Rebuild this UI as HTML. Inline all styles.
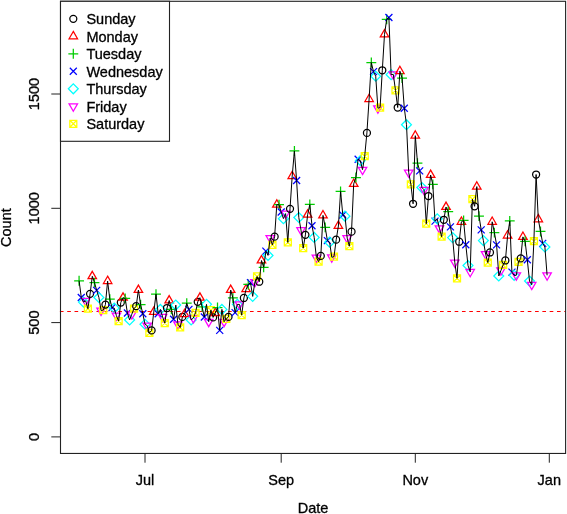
<!DOCTYPE html>
<html><head><meta charset="utf-8"><title>Daily count</title>
<style>html,body{margin:0;padding:0;background:#fff}svg{display:block}text{font-family:"Liberation Sans",Arial,sans-serif;font-size:14.5px;fill:#000;stroke:#000;stroke-width:0.3px}</style></head>
<body>
<svg width="567" height="514" viewBox="0 0 567 514">
<rect width="567" height="514" fill="#fff"/>
<line x1="59.9" y1="311.5" x2="565.6" y2="311.5" stroke="#f00" stroke-width="1.2" stroke-dasharray="3.65 3.66"/>
<g fill="none" stroke-width="1.25">
<path d="M74.13 280.82H84.03M79.08 275.87V285.77" stroke="#00cd00"/>
<path d="M77.78 294.01L84.78 301.01M77.78 301.01L84.78 294.01" stroke="#00f"/>
<path d="M78.53 302.08L83.47 297.13L88.42 302.08L83.47 307.03Z" stroke="#0ff"/>
<path d="M85.67 305.84L89.91 298.49L81.43 298.49Z" stroke="#f0f"/>
<path d="M84.37 305.21H91.37V312.21H84.37ZM84.37 305.21L91.37 312.21M84.37 312.21L91.37 305.21" stroke="#ff0"/>
<circle cx="90.07" cy="293.85" r="3.5" stroke="#000"/>
<path d="M92.26 271.35L96.51 278.7L88.02 278.7Z" stroke="#f00"/>
<path d="M89.51 282.65H99.41M94.46 277.7V287.6" stroke="#00cd00"/>
<path d="M93.16 286.92L100.16 293.92M93.16 293.92L100.16 286.92" stroke="#00f"/>
<path d="M93.91 297.51L98.86 292.56L103.8 297.51L98.86 302.46Z" stroke="#0ff"/>
<path d="M101.05 315.44L105.29 308.09L96.81 308.09Z" stroke="#f0f"/>
<path d="M99.75 306.58H106.75V313.58H99.75ZM99.75 306.58L106.75 313.58M99.75 313.58L106.75 306.58" stroke="#ff0"/>
<circle cx="105.45" cy="304.6" r="3.5" stroke="#000"/>
<path d="M107.64 276.15L111.89 283.5L103.4 283.5Z" stroke="#f00"/>
<path d="M104.89 299.11H114.79M109.84 294.16V304.06" stroke="#00cd00"/>
<path d="M108.54 304.07L115.54 311.07M108.54 311.07L115.54 304.07" stroke="#00f"/>
<path d="M109.29 308.03L114.24 303.08L119.19 308.03L114.24 312.98Z" stroke="#0ff"/>
<path d="M116.43 320.47L120.68 313.12L112.19 313.12Z" stroke="#f0f"/>
<path d="M115.13 317.56H122.13V324.56H115.13ZM115.13 317.56L122.13 324.56M115.13 324.56L122.13 317.56" stroke="#ff0"/>
<circle cx="120.83" cy="302.54" r="3.5" stroke="#000"/>
<path d="M123.03 292.84L127.27 300.19L118.78 300.19Z" stroke="#f00"/>
<path d="M120.27 298.43H130.17M125.22 293.48V303.37" stroke="#00cd00"/>
<path d="M123.92 309.56L130.92 316.56M123.92 316.56L130.92 309.56" stroke="#00f"/>
<path d="M124.67 319.91L129.62 314.96L134.57 319.91L129.62 324.86Z" stroke="#0ff"/>
<path d="M131.82 319.1L136.06 311.75L127.57 311.75Z" stroke="#f0f"/>
<path d="M130.51 305.21H137.51V312.21H130.51ZM130.51 305.21L137.51 312.21M130.51 312.21L137.51 305.21" stroke="#ff0"/>
<circle cx="136.21" cy="306.2" r="3.5" stroke="#000"/>
<path d="M138.41 285.07L142.65 292.42L134.17 292.42Z" stroke="#f00"/>
<path d="M135.66 304.6H145.55M140.6 299.65V309.55" stroke="#00cd00"/>
<path d="M139.3 310.24L146.3 317.24M139.3 317.24L146.3 310.24" stroke="#00f"/>
<path d="M140.05 324.26L145 319.31L149.95 324.26L145 329.21Z" stroke="#0ff"/>
<path d="M147.2 330.53L151.44 323.18L142.95 323.18Z" stroke="#f0f"/>
<path d="M145.89 329.44H152.89V336.44H145.89ZM145.89 329.44L152.89 336.44M145.89 336.44L152.89 329.44" stroke="#ff0"/>
<circle cx="151.59" cy="330.43" r="3.5" stroke="#000"/>
<path d="M153.79 307.01L158.03 314.36L149.55 314.36Z" stroke="#f00"/>
<path d="M151.04 294.08H160.93M155.99 289.13V299.03" stroke="#00cd00"/>
<path d="M154.68 310.24L161.68 317.24M154.68 317.24L161.68 310.24" stroke="#00f"/>
<path d="M155.43 309.4L160.38 304.45L165.33 309.4L160.38 314.35Z" stroke="#0ff"/>
<path d="M162.58 321.84L166.82 314.49L158.34 314.49Z" stroke="#f0f"/>
<path d="M161.27 319.61H168.27V326.61H161.27ZM161.27 319.61L168.27 326.61M161.27 326.61L168.27 319.61" stroke="#ff0"/>
<circle cx="166.97" cy="308.03" r="3.5" stroke="#000"/>
<path d="M169.17 295.58L173.41 302.93L164.93 302.93Z" stroke="#f00"/>
<path d="M166.42 309.4H176.32M171.37 304.45V314.35" stroke="#00cd00"/>
<path d="M170.06 315.73L177.06 322.73M170.06 322.73L177.06 315.73" stroke="#00f"/>
<path d="M170.81 305.06L175.76 300.11L180.71 305.06L175.76 310Z" stroke="#0ff"/>
<path d="M177.96 329.16L182.2 321.81L173.72 321.81Z" stroke="#f0f"/>
<path d="M176.66 323.96H183.66V330.96H176.66ZM176.66 323.96L183.66 330.96M176.66 330.96L183.66 323.96" stroke="#ff0"/>
<circle cx="182.35" cy="316.94" r="3.5" stroke="#000"/>
<path d="M184.55 309.3L188.79 316.65L180.31 316.65Z" stroke="#f00"/>
<path d="M181.8 303.23H191.7M186.75 298.28V308.18" stroke="#00cd00"/>
<path d="M185.44 305.9L192.44 312.9M185.44 312.9L192.44 305.9" stroke="#00f"/>
<path d="M186.19 319.91L191.14 314.96L196.09 319.91L191.14 324.86Z" stroke="#0ff"/>
<path d="M193.34 322.98L197.58 315.64L189.1 315.64Z" stroke="#f0f"/>
<path d="M192.04 309.33H199.04V316.33H192.04ZM192.04 309.33L199.04 316.33M192.04 316.33L199.04 309.33" stroke="#ff0"/>
<circle cx="197.73" cy="301.85" r="3.5" stroke="#000"/>
<path d="M199.93 292.84L204.17 300.19L195.69 300.19Z" stroke="#f00"/>
<path d="M197.18 306.88H207.08M202.13 301.93V311.83" stroke="#00cd00"/>
<path d="M200.83 313.44L207.83 320.44M200.83 320.44L207.83 313.44" stroke="#00f"/>
<path d="M201.57 304.37L206.52 299.42L211.47 304.37L206.52 309.32Z" stroke="#0ff"/>
<path d="M208.72 326.64L212.96 319.29L204.48 319.29Z" stroke="#f0f"/>
<path d="M207.42 306.58H214.42V313.58H207.42ZM207.42 306.58L214.42 313.58M207.42 313.58L214.42 306.58" stroke="#ff0"/>
<circle cx="213.12" cy="317.4" r="3.5" stroke="#000"/>
<path d="M215.31 308.16L219.55 315.51L211.07 315.51Z" stroke="#f00"/>
<path d="M212.56 307.57H222.46M217.51 302.62V312.52" stroke="#00cd00"/>
<path d="M216.21 326.93L223.21 333.93M216.21 333.93L223.21 326.93" stroke="#00f"/>
<path d="M216.96 309.4L221.9 304.45L226.85 309.4L221.9 314.35Z" stroke="#0ff"/>
<path d="M224.1 326.64L228.34 319.29L219.86 319.29Z" stroke="#f0f"/>
<path d="M222.8 315.27H229.8V322.27H222.8ZM222.8 315.27L229.8 322.27M222.8 322.27L229.8 315.27" stroke="#ff0"/>
<circle cx="228.5" cy="316.94" r="3.5" stroke="#000"/>
<path d="M230.69 285.07L234.94 292.42L226.45 292.42Z" stroke="#f00"/>
<path d="M227.94 297.97H237.84M232.89 293.02V302.92" stroke="#00cd00"/>
<path d="M231.59 309.1L238.59 316.1M231.59 316.1L238.59 309.1" stroke="#00f"/>
<path d="M232.34 304.37L237.29 299.42L242.23 304.37L237.29 309.32Z" stroke="#0ff"/>
<path d="M239.48 309.27L243.72 301.92L235.24 301.92Z" stroke="#f0f"/>
<path d="M238.18 311.61H245.18V318.61H238.18ZM238.18 311.61L245.18 318.61M238.18 318.61L245.18 311.61" stroke="#ff0"/>
<circle cx="243.88" cy="297.97" r="3.5" stroke="#000"/>
<path d="M246.07 284.38L250.32 291.73L241.83 291.73Z" stroke="#f00"/>
<path d="M243.32 284.48H253.22M248.27 279.53V289.43" stroke="#00cd00"/>
<path d="M246.97 279.15L253.97 286.15M246.97 286.15L253.97 279.15" stroke="#00f"/>
<path d="M247.72 296.37L252.67 291.42L257.62 296.37L252.67 301.32Z" stroke="#0ff"/>
<path d="M254.86 286.86L259.11 279.52L250.62 279.52Z" stroke="#f0f"/>
<path d="M253.56 272.98H260.56V279.98H253.56ZM253.56 272.98L260.56 279.98M253.56 279.98L260.56 272.98" stroke="#ff0"/>
<circle cx="259.26" cy="281.74" r="3.5" stroke="#000"/>
<path d="M261.46 255.58L265.7 262.93L257.21 262.93Z" stroke="#f00"/>
<path d="M258.7 267.34H268.6M263.65 262.39V272.29" stroke="#00cd00"/>
<path d="M262.35 247.61L269.35 254.61M262.35 254.61L269.35 247.61" stroke="#00f"/>
<path d="M263.1 255.45L268.05 250.5L273 255.45L268.05 260.4Z" stroke="#0ff"/>
<path d="M270.25 242.97L274.49 235.63L266 235.63Z" stroke="#f0f"/>
<path d="M268.94 241.43H275.94V248.43H268.94ZM268.94 241.43L275.94 248.43M268.94 248.43L275.94 241.43" stroke="#ff0"/>
<circle cx="274.64" cy="236.7" r="3.5" stroke="#000"/>
<path d="M276.84 199.8L281.08 207.15L272.6 207.15Z" stroke="#f00"/>
<path d="M274.09 204.7H283.98M279.03 199.75V209.65" stroke="#00cd00"/>
<path d="M277.73 208.51L284.73 215.51M277.73 215.51L284.73 208.51" stroke="#00f"/>
<path d="M278.48 218.64L283.43 213.7L288.38 218.64L283.43 223.59Z" stroke="#0ff"/>
<path d="M285.63 218.51L289.87 211.17L281.38 211.17Z" stroke="#f0f"/>
<path d="M284.32 238.92H291.32V245.92H284.32ZM284.32 238.92L291.32 245.92M284.32 245.92L291.32 238.92" stroke="#ff0"/>
<circle cx="290.02" cy="208.81" r="3.5" stroke="#000"/>
<path d="M292.22 171.23L296.46 178.57L287.98 178.57Z" stroke="#f00"/>
<path d="M289.47 150.98H299.36M294.42 146.03V155.93" stroke="#00cd00"/>
<path d="M293.11 176.97L300.11 183.97M293.11 183.97L300.11 176.97" stroke="#00f"/>
<path d="M293.86 217.5L298.81 212.55L303.76 217.5L298.81 222.45Z" stroke="#0ff"/>
<path d="M301.01 234.97L305.25 227.63L296.77 227.63Z" stroke="#f0f"/>
<path d="M299.7 244.63H306.7V251.63H299.7ZM299.7 244.63L306.7 251.63M299.7 251.63L306.7 244.63" stroke="#ff0"/>
<circle cx="305.4" cy="234.87" r="3.5" stroke="#000"/>
<path d="M307.6 209.86L311.84 217.21L303.36 217.21Z" stroke="#f00"/>
<path d="M304.85 204.47H314.75M309.8 199.52V209.42" stroke="#00cd00"/>
<path d="M308.49 222.23L315.49 229.23M308.49 229.23L315.49 222.23" stroke="#00f"/>
<path d="M309.24 237.39L314.19 232.44L319.14 237.39L314.19 242.34Z" stroke="#0ff"/>
<path d="M316.39 262.4L320.63 255.06L312.15 255.06Z" stroke="#f0f"/>
<path d="M315.09 258.12H322.09V265.12H315.09ZM315.09 258.12L322.09 265.12M315.09 265.12L322.09 258.12" stroke="#ff0"/>
<circle cx="320.78" cy="255.91" r="3.5" stroke="#000"/>
<path d="M322.98 210.55L327.22 217.89L318.74 217.89Z" stroke="#f00"/>
<path d="M320.23 227.33H330.13M325.18 222.38V232.28" stroke="#00cd00"/>
<path d="M323.87 237.09L330.87 244.09M323.87 244.09L330.87 237.09" stroke="#00f"/>
<path d="M324.62 242.19L329.57 237.24L334.52 242.19L329.57 247.14Z" stroke="#0ff"/>
<path d="M331.77 262.18L336.01 254.83L327.53 254.83Z" stroke="#f0f"/>
<path d="M330.47 253.09H337.47V260.09H330.47ZM330.47 253.09L337.47 260.09M330.47 260.09L337.47 253.09" stroke="#ff0"/>
<circle cx="336.16" cy="239.68" r="3.5" stroke="#000"/>
<path d="M338.36 221.06L342.6 228.41L334.12 228.41Z" stroke="#f00"/>
<path d="M335.61 191.44H345.51M340.56 186.49V196.39" stroke="#00cd00"/>
<path d="M339.26 211.49L346.26 218.49M339.26 218.49L346.26 211.49" stroke="#00f"/>
<path d="M340 216.13L344.95 211.18L349.9 216.13L344.95 221.08Z" stroke="#0ff"/>
<path d="M347.15 242.97L351.39 235.63L342.91 235.63Z" stroke="#f0f"/>
<path d="M345.85 242.58H352.85V249.58H345.85ZM345.85 242.58L352.85 249.58M345.85 249.58L352.85 242.58" stroke="#ff0"/>
<circle cx="351.55" cy="231.67" r="3.5" stroke="#000"/>
<path d="M353.74 179L357.98 186.35L349.5 186.35Z" stroke="#f00"/>
<path d="M350.99 177.5H360.89M355.94 172.55V182.45" stroke="#00cd00"/>
<path d="M354.64 155.71L361.64 162.71M354.64 162.71L361.64 155.71" stroke="#00f"/>
<path d="M355.39 160.58L360.33 155.63L365.28 160.58L360.33 165.53Z" stroke="#0ff"/>
<path d="M362.53 174.62L366.77 167.27L358.29 167.27Z" stroke="#f0f"/>
<path d="M361.23 152.74H368.23V159.74H361.23ZM361.23 152.74L368.23 159.74M361.23 159.74L368.23 152.74" stroke="#ff0"/>
<circle cx="366.93" cy="132.92" r="3.5" stroke="#000"/>
<path d="M369.12 94.19L373.37 101.54L364.88 101.54Z" stroke="#f00"/>
<path d="M366.37 62.51H376.27M371.32 57.56V67.46" stroke="#00cd00"/>
<path d="M370.02 68.15L377.02 75.15M370.02 75.15L377.02 68.15" stroke="#00f"/>
<path d="M370.77 76.23L375.72 71.28L380.66 76.23L375.72 81.18Z" stroke="#0ff"/>
<path d="M377.91 113.13L382.15 105.78L373.67 105.78Z" stroke="#f0f"/>
<path d="M376.61 104.04H383.61V111.04H376.61ZM376.61 104.04L383.61 111.04M376.61 111.04L383.61 104.04" stroke="#ff0"/>
<circle cx="382.31" cy="70.28" r="3.5" stroke="#000"/>
<path d="M384.5 29.49L388.75 36.84L380.26 36.84Z" stroke="#f00"/>
<path d="M381.75 19.31H391.65M386.7 14.36V24.25" stroke="#00cd00"/>
<path d="M385.4 13.98L392.4 20.98M385.4 20.98L392.4 13.98" stroke="#00f"/>
<path d="M386.15 74.63L391.1 69.68L396.05 74.63L391.1 79.58Z" stroke="#0ff"/>
<path d="M393.29 79.3L397.54 71.95L389.05 71.95Z" stroke="#f0f"/>
<path d="M391.99 86.9H398.99V93.9H391.99ZM391.99 86.9L398.99 93.9M391.99 93.9L398.99 86.9" stroke="#ff0"/>
<circle cx="397.69" cy="107.54" r="3.5" stroke="#000"/>
<path d="M399.89 66.3L404.13 73.65L395.64 73.65Z" stroke="#f00"/>
<path d="M397.13 78.06H407.03M402.08 73.11V83" stroke="#00cd00"/>
<path d="M400.78 104.73L407.78 111.73M400.78 111.73L407.78 104.73" stroke="#00f"/>
<path d="M401.53 124.69L406.48 119.74L411.43 124.69L406.48 129.64Z" stroke="#0ff"/>
<path d="M408.67 177.37L412.92 170.02L404.43 170.02Z" stroke="#f0f"/>
<path d="M407.37 180.85H414.37V187.85H407.37ZM407.37 180.85L414.37 187.85M407.37 187.85L414.37 180.85" stroke="#ff0"/>
<circle cx="413.07" cy="203.79" r="3.5" stroke="#000"/>
<path d="M415.27 130.76L419.51 138.11L411.03 138.11Z" stroke="#f00"/>
<path d="M412.52 163.09H422.41M417.46 158.15V168.04" stroke="#00cd00"/>
<path d="M416.16 167.37L423.16 174.37M416.16 174.37L423.16 167.37" stroke="#00f"/>
<path d="M416.91 187.55L421.86 182.61L426.81 187.55L421.86 192.5Z" stroke="#0ff"/>
<path d="M424.06 194.74L428.3 187.39L419.81 187.39Z" stroke="#f0f"/>
<path d="M422.75 220.17H429.75V227.17H422.75ZM422.75 220.17L429.75 227.17M422.75 227.17L429.75 220.17" stroke="#ff0"/>
<circle cx="428.45" cy="196.01" r="3.5" stroke="#000"/>
<path d="M430.65 170.08L434.89 177.43L426.41 177.43Z" stroke="#f00"/>
<path d="M427.9 184.35H437.79M432.85 179.41V189.3" stroke="#00cd00"/>
<path d="M431.54 217.66L438.54 224.66M431.54 224.66L438.54 217.66" stroke="#00f"/>
<path d="M432.29 218.87L437.24 213.92L442.19 218.87L437.24 223.82Z" stroke="#0ff"/>
<path d="M439.44 233.14L443.68 225.8L435.2 225.8Z" stroke="#f0f"/>
<path d="M438.13 233.2H445.13V240.2H438.13ZM438.13 233.2L445.13 240.2M438.13 240.2L445.13 233.2" stroke="#ff0"/>
<circle cx="443.83" cy="219.79" r="3.5" stroke="#000"/>
<path d="M446.03 202.09L450.27 209.43L441.79 209.43Z" stroke="#f00"/>
<path d="M443.28 211.56H453.18M448.23 206.61V216.51" stroke="#00cd00"/>
<path d="M446.92 223.37L453.92 230.37M446.92 230.37L453.92 223.37" stroke="#00f"/>
<path d="M447.67 237.62L452.62 232.67L457.57 237.62L452.62 242.57Z" stroke="#0ff"/>
<path d="M454.82 267.43L459.06 260.09L450.58 260.09Z" stroke="#f0f"/>
<path d="M453.52 274.81H460.52V281.81H453.52ZM453.52 274.81L460.52 281.81M453.52 281.81L460.52 274.81" stroke="#ff0"/>
<circle cx="459.21" cy="241.73" r="3.5" stroke="#000"/>
<path d="M461.41 216.95L465.65 224.29L457.17 224.29Z" stroke="#f00"/>
<path d="M458.66 220.47H468.56M463.61 215.52V225.42" stroke="#00cd00"/>
<path d="M462.3 241.2L469.3 248.2M462.3 248.2L469.3 241.2" stroke="#00f"/>
<path d="M463.05 265.51L468 260.56L472.95 265.51L468 270.46Z" stroke="#0ff"/>
<path d="M470.2 276.81L474.44 269.46L465.96 269.46Z" stroke="#f0f"/>
<path d="M468.9 195.71H475.9V202.71H468.9ZM468.9 195.71L475.9 202.71M468.9 202.71L475.9 195.71" stroke="#ff0"/>
<circle cx="474.59" cy="206.3" r="3.5" stroke="#000"/>
<path d="M476.79 181.74L481.03 189.09L472.55 189.09Z" stroke="#f00"/>
<path d="M474.04 216.13H483.94M478.99 211.18V221.08" stroke="#00cd00"/>
<path d="M477.69 226.35L484.69 233.35M477.69 233.35L484.69 226.35" stroke="#00f"/>
<path d="M478.43 240.59L483.38 235.64L488.33 240.59L483.38 245.54Z" stroke="#0ff"/>
<path d="M485.58 258.98L489.82 251.63L481.34 251.63Z" stroke="#f0f"/>
<path d="M484.28 259.04H491.28V266.04H484.28ZM484.28 259.04L491.28 266.04M484.28 266.04L491.28 259.04" stroke="#ff0"/>
<circle cx="489.98" cy="252.48" r="3.5" stroke="#000"/>
<path d="M492.17 216.95L496.41 224.29L487.93 224.29Z" stroke="#f00"/>
<path d="M489.42 232.59H499.32M494.37 227.64V237.54" stroke="#00cd00"/>
<path d="M493.07 241.43L500.07 248.43M493.07 248.43L500.07 241.43" stroke="#00f"/>
<path d="M493.82 276.02L498.76 271.07L503.71 276.02L498.76 280.97Z" stroke="#0ff"/>
<path d="M500.96 275.21L505.2 267.86L496.72 267.86Z" stroke="#f0f"/>
<path d="M499.66 261.32H506.66V268.32H499.66ZM499.66 261.32L506.66 268.32M499.66 268.32L506.66 261.32" stroke="#ff0"/>
<circle cx="505.36" cy="260.48" r="3.5" stroke="#000"/>
<path d="M507.55 230.66L511.8 238.01L503.31 238.01Z" stroke="#f00"/>
<path d="M504.8 220.93H514.7M509.75 215.98V225.88" stroke="#00cd00"/>
<path d="M508.45 268.64L515.45 275.64M508.45 275.64L515.45 268.64" stroke="#00f"/>
<path d="M509.2 275.34L514.15 270.39L519.09 275.34L514.15 280.29Z" stroke="#0ff"/>
<path d="M516.34 280.24L520.58 272.89L512.1 272.89Z" stroke="#f0f"/>
<path d="M515.04 258.35H522.04V265.35H515.04ZM515.04 258.35L522.04 265.35M515.04 265.35L522.04 258.35" stroke="#ff0"/>
<circle cx="520.74" cy="258.42" r="3.5" stroke="#000"/>
<path d="M522.93 232.03L527.18 239.38L518.69 239.38Z" stroke="#f00"/>
<path d="M520.18 241.28H530.08M525.13 236.33V246.22" stroke="#00cd00"/>
<path d="M523.83 256.29L530.83 263.29M523.83 263.29L530.83 256.29" stroke="#00f"/>
<path d="M524.58 281.05L529.53 276.1L534.48 281.05L529.53 286Z" stroke="#0ff"/>
<path d="M531.72 289.61L535.97 282.26L527.48 282.26Z" stroke="#f0f"/>
<path d="M530.42 237.55H537.42V244.55H530.42ZM530.42 237.55L537.42 244.55M530.42 244.55L537.42 237.55" stroke="#ff0"/>
<circle cx="536.12" cy="174.52" r="3.5" stroke="#000"/>
<path d="M538.32 214.43L542.56 221.78L534.07 221.78Z" stroke="#f00"/>
<path d="M535.56 231.45H545.46M540.51 226.5V236.39" stroke="#00cd00"/>
<path d="M539.21 239.83L546.21 246.83M539.21 246.83L546.21 239.83" stroke="#00f"/>
<path d="M539.96 246.99L544.91 242.04L549.86 246.99L544.91 251.94Z" stroke="#0ff"/>
<path d="M547.1 280.24L551.35 272.89L542.86 272.89Z" stroke="#f0f"/>
</g>
<polyline points="79.1,280.8 81.3,297.5 83.5,302.1 85.7,300.9 87.9,308.7 90.1,293.9 92.3,276.3 94.5,282.7 96.7,290.4 98.9,297.5 101.1,310.5 103.3,310.1 105.4,304.6 107.6,281.1 109.8,299.1 112.0,307.6 114.2,308.0 116.4,315.6 118.6,321.1 120.8,302.5 123.0,297.7 125.2,298.4 127.4,313.1 129.6,319.9 131.8,314.2 134.0,308.7 136.2,306.2 138.4,290.0 140.6,304.6 142.8,313.7 145.0,324.3 147.2,325.6 149.4,332.9 151.6,330.4 153.8,311.9 156.0,294.1 158.2,313.7 160.4,309.4 162.6,316.9 164.8,323.1 167.0,308.0 169.2,300.5 171.4,309.4 173.6,319.2 175.8,305.1 178.0,324.3 180.2,327.5 182.4,316.9 184.6,314.2 186.7,303.2 188.9,309.4 191.1,319.9 193.3,318.1 195.5,312.8 197.7,301.9 199.9,297.7 202.1,306.9 204.3,316.9 206.5,304.4 208.7,321.7 210.9,310.1 213.1,317.4 215.3,313.1 217.5,307.6 219.7,330.4 221.9,309.4 224.1,321.7 226.3,318.8 228.5,316.9 230.7,290.0 232.9,298.0 235.1,312.6 237.3,304.4 239.5,304.4 241.7,315.1 243.9,298.0 246.1,289.3 248.3,284.5 250.5,282.7 252.7,296.4 254.9,282.0 257.1,276.5 259.3,281.7 261.5,260.5 263.7,267.3 265.9,251.1 268.0,255.4 270.2,238.1 272.4,244.9 274.6,236.7 276.8,204.7 279.0,204.7 281.2,212.0 283.4,218.6 285.6,213.6 287.8,242.4 290.0,208.8 292.2,176.1 294.4,151.0 296.6,180.5 298.8,217.5 301.0,230.1 303.2,248.1 305.4,234.9 307.6,214.8 309.8,204.5 312.0,225.7 314.2,237.4 316.4,257.5 318.6,261.6 320.8,255.9 323.0,215.4 325.2,227.3 327.4,240.6 329.6,242.2 331.8,257.3 334.0,256.6 336.2,239.7 338.4,226.0 340.6,191.4 342.8,215.0 345.0,216.1 347.2,238.1 349.3,246.1 351.5,231.7 353.7,183.9 355.9,177.5 358.1,159.2 360.3,160.6 362.5,169.7 364.7,156.2 366.9,132.9 369.1,99.1 371.3,62.5 373.5,71.7 375.7,76.2 377.9,108.2 380.1,107.5 382.3,70.3 384.5,34.4 386.7,19.3 388.9,17.5 391.1,74.6 393.3,74.4 395.5,90.4 397.7,107.5 399.9,71.2 402.1,78.1 404.3,108.2 406.5,124.7 408.7,172.5 410.9,184.4 413.1,203.8 415.3,135.7 417.5,163.1 419.7,170.9 421.9,187.6 424.1,189.8 426.3,223.7 428.5,196.0 430.6,175.0 432.8,184.4 435.0,221.2 437.2,218.9 439.4,228.2 441.6,236.7 443.8,219.8 446.0,207.0 448.2,211.6 450.4,226.9 452.6,237.6 454.8,262.5 457.0,278.3 459.2,241.7 461.4,221.8 463.6,220.5 465.8,244.7 468.0,265.5 470.2,271.9 472.4,199.2 474.6,206.3 476.8,186.6 479.0,216.1 481.2,229.8 483.4,240.6 485.6,254.1 487.8,262.5 490.0,252.5 492.2,221.8 494.4,232.6 496.6,244.9 498.8,276.0 501.0,270.3 503.2,264.8 505.4,260.5 507.6,235.6 509.8,220.9 511.9,272.1 514.1,275.3 516.3,275.3 518.5,261.8 520.7,258.4 522.9,236.9 525.1,241.3 527.3,259.8 529.5,281.1 531.7,284.7 533.9,241.0 536.1,174.5 538.3,219.3 540.5,231.4 542.7,243.3 544.9,247.0 547.1,275.3" fill="none" stroke="#000" stroke-width="1" stroke-linejoin="round"/>
<rect x="60.5" y="1.3" width="505.1" height="452.15" fill="none" stroke="#222" stroke-width="1.1"/>
<line x1="145.0" y1="453.45" x2="145.0" y2="462.7" stroke="#222" stroke-width="1"/>
<text x="145.0" y="485.2" text-anchor="middle">Jul</text>
<line x1="281.2" y1="453.45" x2="281.2" y2="462.7" stroke="#222" stroke-width="1"/>
<text x="281.2" y="485.2" text-anchor="middle">Sep</text>
<line x1="415.3" y1="453.45" x2="415.3" y2="462.7" stroke="#222" stroke-width="1"/>
<text x="415.3" y="485.2" text-anchor="middle">Nov</text>
<line x1="549.3" y1="453.45" x2="549.3" y2="462.7" stroke="#222" stroke-width="1"/>
<text x="549.3" y="485.2" text-anchor="middle">Jan</text>
<line x1="51.3" y1="436.9" x2="60.5" y2="436.9" stroke="#222" stroke-width="1"/>
<text transform="translate(39.4 436.9) rotate(-90)" text-anchor="middle">0</text>
<line x1="51.3" y1="322.6" x2="60.5" y2="322.6" stroke="#222" stroke-width="1"/>
<text transform="translate(39.4 322.6) rotate(-90)" text-anchor="middle">500</text>
<line x1="51.3" y1="208.3" x2="60.5" y2="208.3" stroke="#222" stroke-width="1"/>
<text transform="translate(39.4 208.3) rotate(-90)" text-anchor="middle">1000</text>
<line x1="51.3" y1="94.0" x2="60.5" y2="94.0" stroke="#222" stroke-width="1"/>
<text transform="translate(39.4 94.0) rotate(-90)" text-anchor="middle">1500</text>
<text x="313.1" y="512.8" text-anchor="middle">Date</text>
<text transform="translate(11.4 227.6) rotate(-90)" text-anchor="middle">Count</text>
<rect x="60.5" y="1.3" width="109.0" height="140.0" fill="#fff" stroke="#222" stroke-width="1.1"/>
<g fill="none" stroke-width="1.25">
<circle cx="73.3" cy="18.8" r="3.5" stroke="#000"/>
<path d="M73.3 31.4L77.54 38.75L69.06 38.75Z" stroke="#f00"/>
<path d="M68.35 53.8H78.25M73.3 48.85V58.75" stroke="#00cd00"/>
<path d="M69.8 67.8L76.8 74.8M69.8 74.8L76.8 67.8" stroke="#00f"/>
<path d="M68.35 88.8L73.3 83.85L78.25 88.8L73.3 93.75Z" stroke="#0ff"/>
<path d="M73.3 111.2L77.54 103.85L69.06 103.85Z" stroke="#f0f"/>
<path d="M69.8 120.3H76.8V127.3H69.8ZM69.8 120.3L76.8 127.3M69.8 127.3L76.8 120.3" stroke="#ff0"/>
</g>
<text x="86.4" y="24.4">Sunday</text>
<text x="86.4" y="41.9">Monday</text>
<text x="86.4" y="59.4">Tuesday</text>
<text x="86.4" y="76.9">Wednesday</text>
<text x="86.4" y="94.4">Thursday</text>
<text x="86.4" y="111.9">Friday</text>
<text x="86.4" y="129.4">Saturday</text>
</svg></body></html>
